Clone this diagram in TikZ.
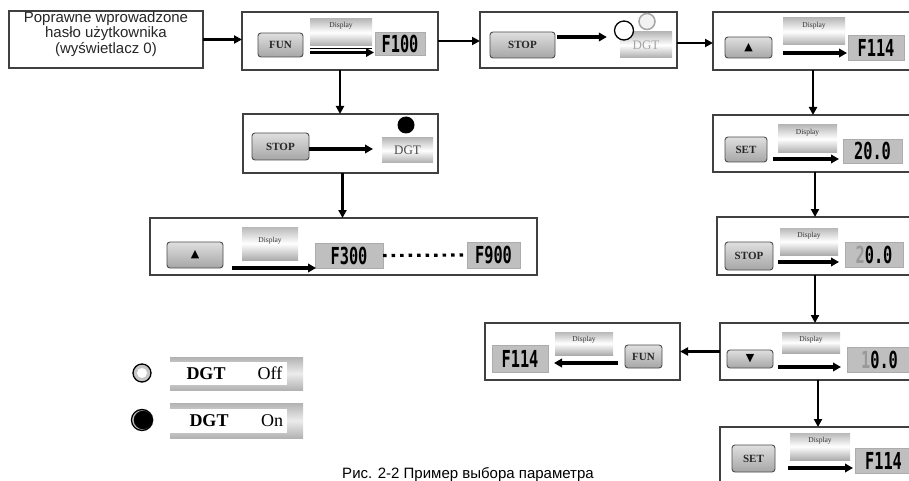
\documentclass[tikz,border=0pt]{standalone}
\usepackage{fontspec}
\setmainfont{Liberation Serif}
\newfontfamily\sansf{Liberation Sans}
\newfontfamily\lcdf{DejaVu Sans Mono}
\newfontfamily\symf{DejaVu Sans}
\usetikzlibrary{arrows.meta,calc}
\newcommand\rb[7]{%
  \pgfmathsetmacro\rbX{(#2+#4)/2}%
  \pgfmathsetmacro\rbY{(#3+#5)/2}%
  \pgfmathsetmacro\rbW{#4-#2}%
  \pgfmathsetmacro\rbH{#5-#3}%
  \node[inner sep=0pt, outer sep=0pt, minimum width=\rbW pt, minimum height=\rbH pt, #6] (#1) at (\rbX,\rbY) {#7};}
\newcommand\lcdtxt[1]{\scalebox{0.85}[1.3]{\fontsize{18}{18}\selectfont #1}}
\begin{document}
\begin{tikzpicture}[x=1pt,y=-1pt,
  box/.style={draw=black!75, line width=1.4pt, fill=white},
  btn/.style={draw=black!70, line width=0.9pt, rounded corners=3pt, top color=gray!25, bottom color=gray!70, font=\bfseries\fontsize{11}{11}\selectfont, text=black!85},
  symbtn/.style={btn, font=\symf\fontsize{11}{11}\selectfont, text=black},
  ban/.style={top color=gray!55, bottom color=gray!65, middle color=white},
  bantext/.style={font=\fontsize{7.5}{7.5}\selectfont, text=black!80, inner sep=0pt, anchor=north},
  lcdbox/.style={fill=gray!50, draw=gray!65, line width=0.9pt, font=\lcdf\bfseries},
  inarr/.style={-{Triangle[length=8pt,width=8.5pt]}, line width=3.4pt},
  flow/.style={-{Triangle[length=8pt,width=8pt]}, line width=2.6pt}]
\useasboundingbox (0,0) rectangle (909,481);
\clip (0,0) rectangle (909,481);
\fill[white] (0,0) rectangle (909,481);

% Box 1
\rb{b1}{9}{11}{203}{68}{box}{}
\node[font=\sansf\fontsize{15}{15.5}\selectfont, align=center, text=black!85] (t1) at (106,34) {Poprawne wprowadzone\\hasło użytkownika\\(wyświetlacz 0)};

% Box 2
\rb{b2}{242}{12}{438}{70}{box}{}
\rb{b2btn}{258}{33}{303}{57}{btn}{FUN}
\rb{b2ban}{310}{19}{372}{46}{ban}{}
\node[bantext] (b2bt) at ([yshift=-3pt]b2ban.north) {Display};
\draw[line width=1pt] ([yshift=-2.5pt]b2ban.south west) -- ([yshift=-2.5pt]b2ban.south east);
\draw[inarr] ([yshift=-6.5pt]b2ban.south west) -- ([yshift=-6.5pt,xshift=2pt]b2ban.south east);
\rb{b2lcd}{375}{32}{425}{55}{lcdbox}{\lcdtxt{F100}}

% Box 3
\rb{b3}{480}{12}{677}{68}{box}{}
\rb{b3btn}{490}{32}{555}{58}{btn}{STOP}
\rb{b3ban}{620}{32}{672}{58}{ban, font=\fontsize{13}{13}\selectfont, text=gray!70}{DGT}
\node[circle, draw=gray!70, line width=1.5pt, fill=gray!10, minimum size=16pt, inner sep=0pt] (b3o) at (647,21.5) {};
\node[circle, draw=black, line width=1.3pt, fill=white, minimum size=19pt, inner sep=0pt] (b3c) at (624,30.5) {};
\draw[inarr] ([yshift=-5pt,xshift=2pt]b3btn.north east) -- ([yshift=-5pt,xshift=-7pt]b3btn.north east -| b3c.west);

% Box 4
\rb{b4}{713}{12}{913}{70}{box}{}
\rb{b4btn}{725}{37}{772}{58}{symbtn}{▲}
\rb{b4ban}{783}{18}{845}{45}{ban}{}
\node[bantext] (b4bt) at ([yshift=-4pt]b4ban.north) {Display};
\draw[inarr] ([yshift=-8pt]b4ban.south west) -- ([yshift=-8pt,xshift=2pt]b4ban.south east);
\rb{b4lcd}{848}{35}{904}{60}{lcdbox}{\lcdtxt{F114}}

% Box 5
\rb{b5}{243}{114}{438}{173}{box}{}
\rb{b5btn}{252}{133}{309}{160}{btn}{STOP}
\rb{b5ban}{382}{138}{433}{163}{ban, font=\fontsize{13}{13}\selectfont, text=black!70}{DGT}
\node[circle, fill=black, minimum size=17pt, inner sep=0pt] (b5c) at (406,125) {};
\draw[inarr] ([yshift=-2.5pt]b5btn.east) -- ([yshift=-2.5pt,xshift=-9pt]b5btn.east -| b5ban.west);

% Box 6
\rb{b6}{150}{218}{537}{275}{box}{}
\rb{b6btn}{167}{242}{223}{268}{symbtn}{▲}
\rb{b6ban}{242}{227}{298}{260}{ban}{}
\node[bantext] (b6bt) at ([yshift=-10pt]b6ban.north) {Display};
\rb{b6lcd}{315}{243}{383}{268}{lcdbox}{\lcdtxt{F300}}
\rb{b6lcdb}{467}{242}{520}{268}{lcdbox}{\lcdtxt{F900}}
\draw[inarr] ([xshift=9pt]b6btn.south east) -- ([xshift=1pt]b6lcd.south west);
\draw[line width=3.2pt, dash pattern=on 3.5pt off 5pt] (b6lcd.east) -- (b6lcdb.west);

% Box 7
\rb{b7}{713}{115}{917}{172}{box}{}
\rb{b7btn}{725}{137}{767}{162}{btn}{SET}
\rb{b7ban}{778}{125}{837}{153}{ban}{}
\node[bantext] (b7bt) at ([yshift=-4pt]b7ban.north) {Display};
\draw[inarr] ([xshift=-5pt,yshift=-6pt]b7ban.south west) -- ([xshift=2pt,yshift=-6pt]b7ban.south east);
\rb{b7lcd}{843}{139}{902}{163}{lcdbox}{\lcdtxt{20.0}}

% Box 8
\rb{b8}{717}{217}{913}{275}{box}{}
\rb{b8btn}{725}{242}{773}{270}{btn}{STOP}
\rb{b8ban}{780}{228}{838}{255}{ban}{}
\node[bantext] (b8bt) at ([yshift=-4pt]b8ban.north) {Display};
\draw[inarr] ([xshift=-2pt,yshift=-7pt]b8ban.south west) -- ([xshift=1pt,yshift=-7pt]b8ban.south east);
\rb{b8lcd}{845}{242}{903}{267}{lcdbox}{\lcdtxt{\textcolor{gray!80}{2}0.0}}

% Box 9
\rb{b9}{720}{323}{916}{380}{box}{}
\rb{b9btn}{727}{350}{773}{368}{symbtn}{▼}
\rb{b9ban}{782}{332}{840}{353}{ban}{}
\node[bantext] (b9bt) at ([yshift=-4pt]b9ban.north) {Display};
\draw[inarr] ([xshift=-4pt,yshift=-14pt]b9ban.south west) -- ([xshift=1pt,yshift=-14pt]b9ban.south east);
\rb{b9lcd}{847}{347}{912}{372}{lcdbox}{\lcdtxt{\textcolor{gray!80}{1}0.0}}

% Box 10
\rb{b10}{485}{323}{680}{380}{box}{}
\rb{b10lcd}{492}{345}{548}{372}{lcdbox}{\lcdtxt{F114}}
\rb{b10ban}{555}{332}{613}{355}{ban}{}
\node[bantext] (b10bt) at ([yshift=-4pt]b10ban.north) {Display};
\rb{b10btn}{625}{345}{662}{368}{btn}{FUN}
\draw[inarr] ([xshift=5pt,yshift=-8pt]b10ban.south east) -- ([xshift=-1pt,yshift=-8pt]b10ban.south west);

% Box 11
\rb{b11}{720}{427}{916}{490}{box}{}
\rb{b11btn}{732}{445}{775}{472}{btn}{SET}
\rb{b11ban}{790}{433}{850}{460}{ban}{}
\node[bantext] (b11bt) at ([yshift=-4pt]b11ban.north) {Display};
\draw[inarr] ([xshift=-2pt,yshift=-8pt]b11ban.south west) -- ([xshift=3pt,yshift=-8pt]b11ban.south east);
\rb{b11lcd}{855}{448}{912}{473}{lcdbox}{\lcdtxt{F114}}

% Flow connectors
\draw[flow] (b1.east) -- (b1.east -| b2.west);
\draw[flow] (b2.east) -- (b2.east -| b3.west);
\draw[flow] ([yshift=-3pt]b3.east) -- ([yshift=-3pt]b3.east -| b4.west);
\draw[flow] (b2.south) -- (b2.south |- b5.north);
\draw[flow] ([xshift=2pt]b5.south) -- ([xshift=2pt]b5.south |- b6.north);
\draw[flow] (b4.south) -- (b4.south |- b7.north);
\draw[flow] (b7.south) -- (b7.south |- b8.north);
\draw[flow] (b8.south) -- (b8.south |- b9.north);
\draw[flow] (b9.west) -- (b9.west -| b10.east);
\draw[flow] (b9.south) -- (b9.south |- b11.north);

% Legend
\rb{lbar1}{170}{357}{303}{390}{top color=gray!60, bottom color=gray!60, middle color=gray!15}{}
\rb{lw1}{170}{362}{287}{385}{fill=white}{}
\node[font=\bfseries\fontsize{18}{18}\selectfont] (ld1) at (206,373.5) {DGT};
\node[font=\fontsize{18}{18}\selectfont] (lo1) at (270,373.5) {Off};
\rb{lbar2}{170}{403}{303}{438}{top color=gray!60, bottom color=gray!60, middle color=gray!15}{}
\rb{lw2}{170}{409}{287}{433}{fill=white}{}
\node[font=\bfseries\fontsize{18}{18}\selectfont] (ld2) at (209,421) {DGT};
\node[font=\fontsize{18}{18}\selectfont] (lo2) at (272,421) {On};
\node[circle, draw=black, line width=1.3pt, fill=gray!45, minimum size=18pt, inner sep=0pt] (loff) at (142,373) {};
\node[circle, fill=white, minimum size=10pt, inner sep=0pt] (loffi) at (142,373) {};
\node[circle, draw=gray!55, line width=1.2pt, fill=black, minimum size=20pt, inner sep=0pt] (lon) at (143,420) {};
\node[circle, draw=black, line width=1.3pt, minimum size=21pt, inner sep=0pt] (lonr) at (142,420) {};

% Caption
\node[font=\sansf\fontsize{15}{15}\selectfont, anchor=base, inner sep=0pt] (cap) at (468,478) {Рис. 2-2 Пример выбора параметра};
\end{tikzpicture}
\end{document}
